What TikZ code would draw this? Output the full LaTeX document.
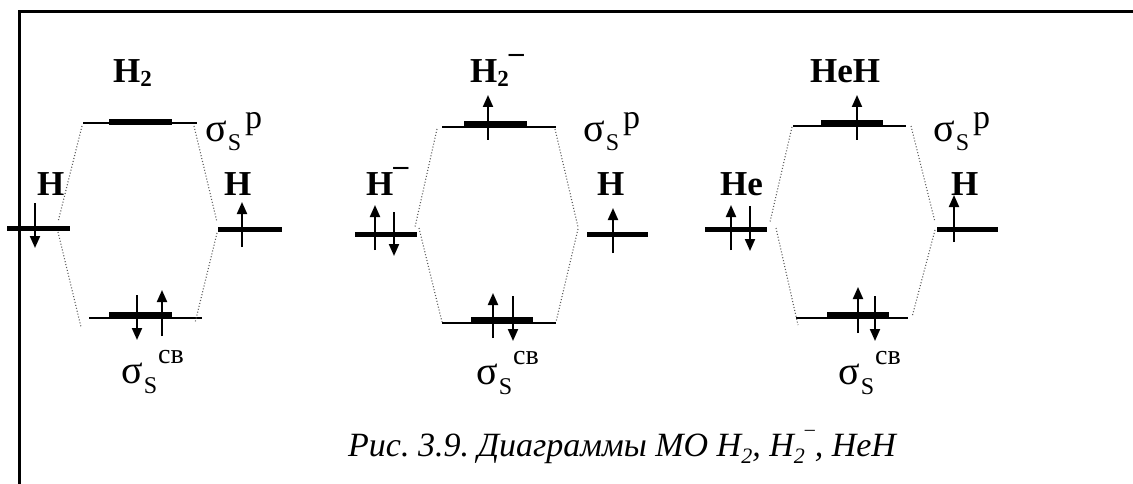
\documentclass[tikz,border=0pt]{standalone}
\usepackage{fontspec}
\setmainfont{Liberation Serif}
\usetikzlibrary{arrows.meta}
\frenchspacing
\newcommand{\sg}{{\fontsize{40}{40}\selectfont σ}}
\newcommand{\sigP}{\sg\kern1pt\raisebox{-9pt}{\fontsize{24}{24}\selectfont S}\kern4pt\raisebox{13pt}{\fontsize{34}{34}\selectfont p}}
\newcommand{\sigCB}{\sg\kern1pt\raisebox{-10pt}{\fontsize{24}{24}\selectfont S}\kern1pt\raisebox{20pt}{\fontsize{28}{28}\selectfont св}}
\newcommand{\bsub}[1]{\raisebox{-4pt}{\fontsize{23}{23}\selectfont\bfseries #1}}
\newcommand{\bmin}[1]{\raisebox{#1}{\fontsize{30}{30}\selectfont\bfseries –}}
\newcommand{\isub}[1]{\raisebox{-7pt}{\fontsize{22}{22}\selectfont\itshape #1}}
\begin{document}
\begin{tikzpicture}[x=1pt,y=-1pt,
  mo/.style={line width=2.5pt},
  bar/.style={line width=6pt},
  atom/.style={line width=5pt},
  spin/.style={line width=2pt,-{Triangle[width=10pt,length=12pt]}},
  corr/.style={line width=1.1pt,dash pattern=on 1pt off 2pt,black!65},
  lbl/.style={inner sep=0pt,anchor=base west,font=\fontsize{35}{40}\selectfont\bfseries},
  sig/.style={inner sep=0pt,anchor=base west,font=\fontsize{32}{36}\selectfont},
  captext/.style={inner sep=0pt,anchor=base west,font=\fontsize{34}{40}\selectfont\itshape},
]
\useasboundingbox (0,0) rectangle (1133,484);
% frame
\draw[line width=3pt] (19,484) -- (19,12) -- (1133,12);

% ================= Diagram 1: H2 =================
\draw[mo] (83,123) -- (197,123);
\draw[bar] (109,122) -- (172,122);
\draw[atom] (7,228) -- (70,228);
\draw[atom] (218,229) -- (282,229);
\draw[mo] (89,318) -- (202,318);
\draw[bar] (109,315) -- (172,315);
\draw[spin] (35,203) -- (35,248);
\draw[spin] (242,247) -- (242,202);
\draw[spin] (137,295) -- (137,340);
\draw[spin] (162,336) -- (162,290);
\node[lbl] (t1) at (113,83) {H\bsub{2}};
\node[lbl] (a1l) at (37,195) {H};
\node[lbl] (a1r) at (224,195) {H};
\node[sig] (s1p) at (205,142) {\sigP};
\node[sig] (s1c) at (121,383) {\sigCB};
\coordinate (d1a) at (82,126);  \coordinate (d1b) at (58,222);
\coordinate (d1c) at (58,232);  \coordinate (d1d) at (81,327);
\coordinate (d1e) at (194,126); \coordinate (d1f) at (217,222);
\coordinate (d1g) at (217,233); \coordinate (d1h) at (195,323);
\draw[corr] (d1a) -- (d1b);
\draw[corr] (d1c) -- (d1d);
\draw[corr] (d1e) -- (d1f);
\draw[corr] (d1g) -- (d1h);

% ================= Diagram 2: H2- =================
\draw[mo] (442,127) -- (556,127);
\draw[bar] (464,124) -- (527,124);
\draw[spin] (488,140) -- (488,95);
\draw[atom] (355,234) -- (417,234);
\draw[spin] (375,250) -- (375,205);
\draw[spin] (394,212) -- (394,256);
\draw[atom] (587,234) -- (648,234);
\draw[spin] (613,253) -- (613,208);
\draw[mo] (442,323) -- (556,323);
\draw[bar] (471,320) -- (533,320);
\draw[spin] (493,338) -- (493,293);
\draw[spin] (513,296) -- (513,341);
\node[lbl] (t2) at (470,83) {H\bsub{2}\bmin{20pt}};
\node[lbl] (a2l) at (366,195) {H\bmin{20pt}};
\node[lbl] (a2r) at (597,195) {H};
\node[sig] (s2p) at (583,142) {\sigP};
\node[sig] (s2c) at (476,384) {\sigCB};
\coordinate (d2a) at (437,129); \coordinate (d2b) at (415,227);
\coordinate (d2c) at (419,228); \coordinate (d2d) at (442,322);
\coordinate (d2e) at (555,129); \coordinate (d2f) at (578,227);
\coordinate (d2g) at (578,229); \coordinate (d2h) at (556,322);
\draw[corr] (d2a) -- (d2b);
\draw[corr] (d2c) -- (d2d);
\draw[corr] (d2e) -- (d2f);
\draw[corr] (d2g) -- (d2h);

% ================= Diagram 3: HeH =================
\draw[mo] (793,126) -- (906,126);
\draw[bar] (821,123) -- (883,123);
\draw[spin] (857,140) -- (857,95);
\draw[atom] (705,229) -- (767,229);
\draw[spin] (731,250) -- (731,205);
\draw[spin] (750,206) -- (750,251);
\draw[atom] (937,229) -- (998,229);
\draw[spin] (954,242) -- (954,195);
\draw[mo] (796,318) -- (908,318);
\draw[bar] (827,315) -- (889,315);
\draw[spin] (858,333) -- (858,287);
\draw[spin] (875,296) -- (875,341);
\node[lbl] (t3) at (810,83) {HeH};
\node[lbl] (a3l) at (720,195) {He};
\node[lbl] (a3r) at (951,195) {H};
\node[sig] (s3p) at (933,142) {\sigP};
\node[sig] (s3c) at (838,384) {\sigCB};
\coordinate (d3a) at (792,127); \coordinate (d3b) at (770,222);
\coordinate (d3c) at (776,228); \coordinate (d3d) at (798,325);
\coordinate (d3e) at (911,126); \coordinate (d3f) at (935,222);
\coordinate (d3g) at (935,230); \coordinate (d3h) at (912,317);
\draw[corr] (d3a) -- (d3b);
\draw[corr] (d3c) -- (d3d);
\draw[corr] (d3e) -- (d3f);
\draw[corr] (d3g) -- (d3h);

% caption
\node[captext] (caption) at (348,456) {Рис. 3.9. Диаграммы МО H\isub{2}, H\isub{2}\raisebox{21pt}{\fontsize{20}{20}\selectfont –}, HeH};
\end{tikzpicture}
\end{document}
